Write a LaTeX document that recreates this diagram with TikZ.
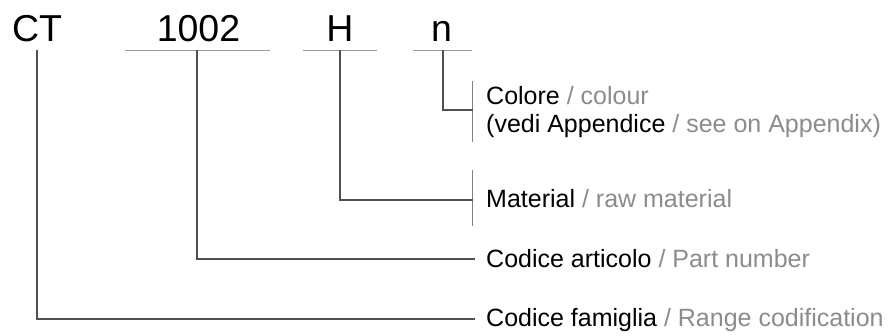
\documentclass[tikz,border=0pt]{standalone}
\usepackage{fontspec}
\setmainfont{Liberation Sans}
\definecolor{lineC}{HTML}{505050}
\definecolor{ulC}{HTML}{9A9A9A}
\definecolor{barC}{HTML}{808080}
\definecolor{txtG}{HTML}{8C8C8C}
\begin{document}
\begin{tikzpicture}[x=1pt,y=-1pt,
  code/.style={anchor=base,inner sep=0pt,font=\fontsize{37.5}{40}\selectfont},
  desc/.style={anchor=base west,inner sep=0pt,font=\fontsize{25}{28}\selectfont},
  main/.style={draw=lineC,line width=1.1pt},
  uline/.style={draw=ulC,line width=0.9pt},
  bar/.style={draw=barC,line width=0.9pt}]
\useasboundingbox[fill=white] (0,0) rectangle (892,336);
% codes
\node[code] (ct) at (37,42) {CT};
\node[code] (num) at (198.5,42) {1002};
\node[code] (mat) at (340,42) {H};
\node[code] (col) at (441.5,42) {n};
% underlines
\coordinate (numA) at (125,50.5); \coordinate (numB) at (270,50.5);
\coordinate (matA) at (303,50.5); \coordinate (matB) at (377,50.5);
\coordinate (colA) at (413,50.5); \coordinate (colB) at (472,50.5);
\draw[uline] (numA) -- (numB);
\draw[uline] (matA) -- (matB);
\draw[uline] (colA) -- (colB);
% descriptions
\node[desc] (d1) at (486,105) {Colore \textcolor{txtG}{/ colour}};
\node[desc] (d2) at (486,133) {(vedi Appendice \textcolor{txtG}{/ see on Appendix)}};
\node[desc] (d3) at (486,208) {Material \textcolor{txtG}{/ raw material}};
\node[desc] (d4) at (486,268) {Codice articolo \textcolor{txtG}{/ Part number}};
\node[desc] (d5) at (486,327) {Codice famiglia \textcolor{txtG}{/ Range codification}};
% bars
\coordinate (b1t) at (472.5,81); \coordinate (b1b) at (472.5,142);
\coordinate (b2t) at (472.5,170); \coordinate (b2b) at (472.5,226);
\draw[bar] (b1t) -- (b1b);
\draw[bar] (b2t) -- (b2b);
% connectors
\coordinate (ctS) at (37,50.5);
\coordinate (numS) at (197,50.5);
\coordinate (matS) at (340,50.5);
\coordinate (colS) at (443,50.5);
\coordinate (e1) at (472.5,110);
\coordinate (e2) at (472.5,200);
\coordinate (e4) at (475,259);
\coordinate (e5) at (475,319);
\draw[main] (colS) |- (e1);
\draw[main] (matS) |- (e2);
\draw[main] (numS) |- (e4);
\draw[main] (ctS) |- (e5);
\end{tikzpicture}
\end{document}
